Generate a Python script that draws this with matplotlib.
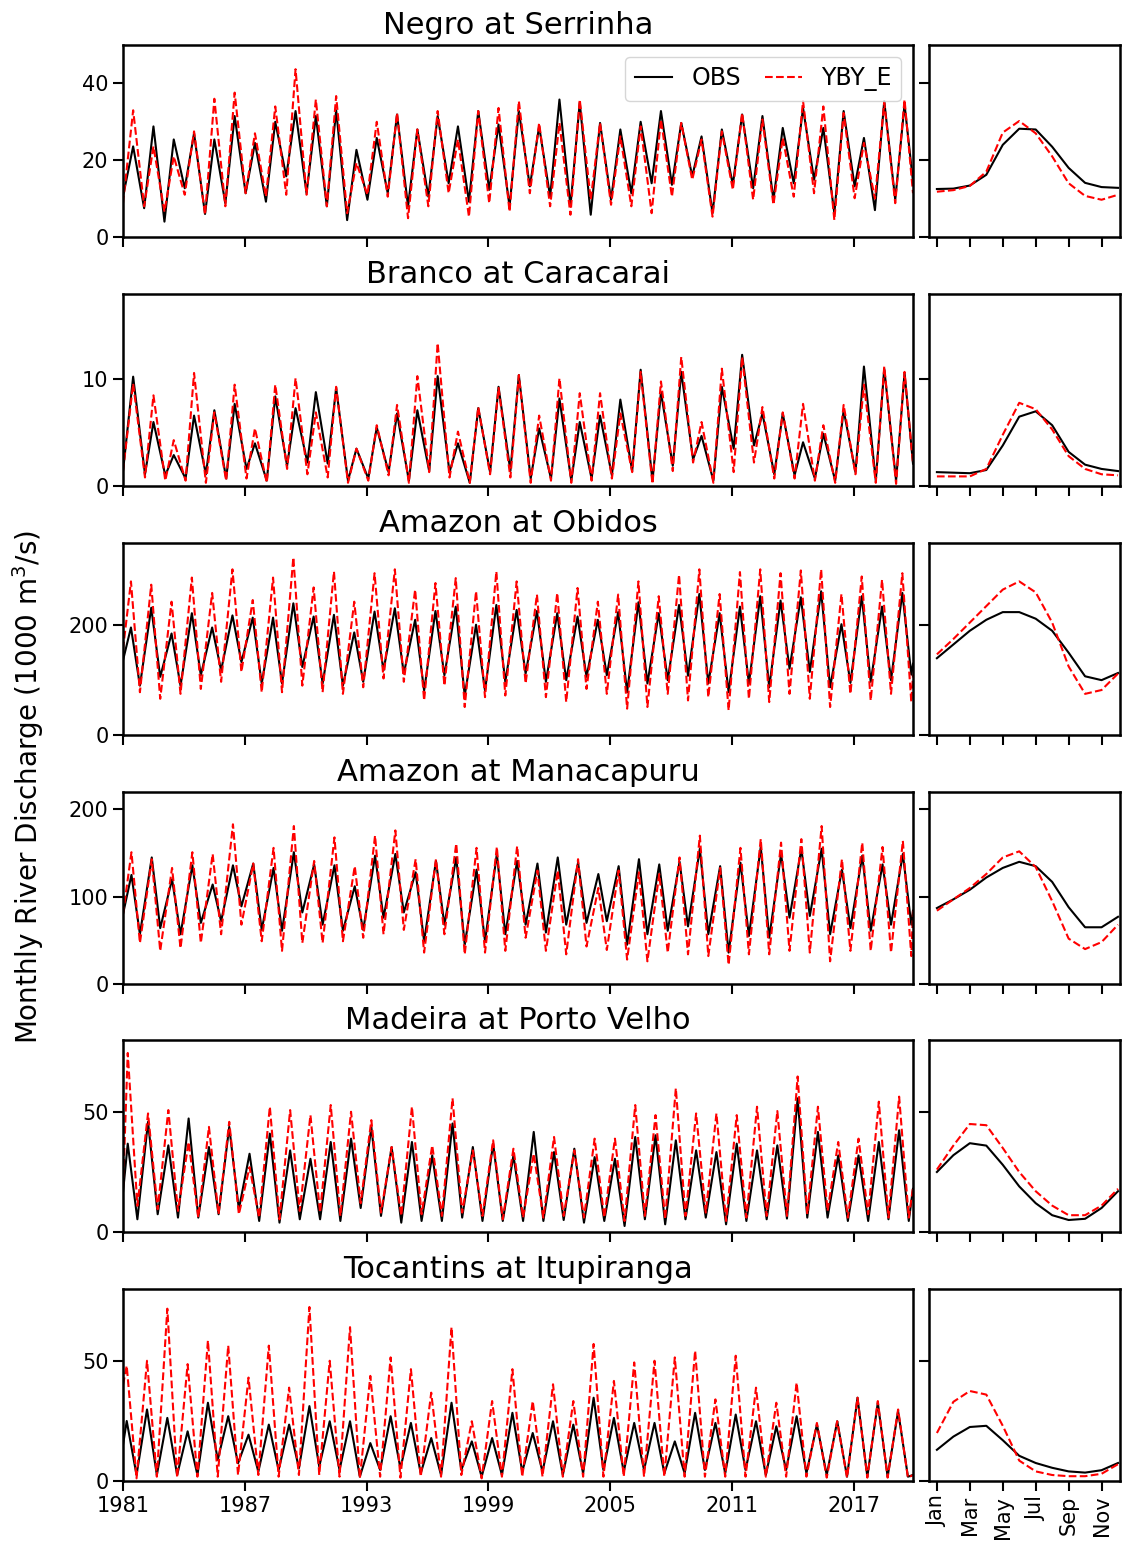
import numpy as np
import matplotlib.pyplot as plt

# monthly discharge, 1000 m3/s
# each station: yearly high-water value and the low-water value that follows it
years = np.arange(1981, 2020)
months = np.arange(1, 13)
month_ticks = [1, 3, 5, 7, 9, 11]
month_labels = ['Jan', 'Mar', 'May', 'Jul', 'Sep', 'Nov']
year_ticks = [1981, 1987, 1993, 1999, 2005, 2011, 2017]

# Negro at Serrinha
negro_obs_peak = [23.6, 28.8, 25.4, 27.0, 25.4, 31.5, 24.5, 30.0, 32.8, 31.5, 33.0, 22.7, 25.8, 31.9, 28.0, 31.5, 28.8, 32.8, 29.3, 32.8,
                  28.8, 35.8, 35.0, 29.7, 28.0, 30.0, 32.8, 29.7, 26.2, 28.0, 31.9, 31.5, 28.4, 33.6, 28.4, 32.8, 25.8, 35.4, 34.5]
negro_obs_low = [7.5, 4.0, 12.7, 6.0, 8.8, 11.4, 9.2, 15.8, 11.4, 8.0, 4.4, 9.7, 11.4, 8.0, 10.5, 14.0, 9.2, 12.3, 8.0, 13.2,
                 10.5, 8.0, 5.8, 9.7, 11.4, 14.0, 13.6, 15.8, 6.2, 13.6, 12.7, 9.7, 14.0, 14.9, 6.2, 13.2, 7.0, 9.7, 14.5]
negro_sim_peak = [33.0, 23.6, 21.0, 27.5, 36.0, 37.6, 27.0, 34.0, 43.7, 35.8, 36.7, 19.3, 30.0, 32.3, 28.0, 32.8, 25.4, 32.8, 33.6, 35.4,
                  29.7, 29.7, 35.8, 29.7, 26.2, 28.8, 30.6, 29.7, 25.4, 27.5, 32.3, 30.6, 25.8, 35.4, 34.0, 32.3, 24.5, 35.0, 35.8]
negro_sim_low = [8.0, 6.6, 11.0, 5.8, 8.0, 11.4, 10.5, 11.0, 11.0, 8.0, 6.2, 11.0, 10.5, 4.9, 8.0, 11.4, 5.3, 8.8, 6.6, 11.4,
                 8.0, 5.8, 9.7, 8.4, 8.0, 6.2, 10.5, 14.9, 5.3, 12.3, 9.7, 8.4, 10.5, 11.4, 4.4, 10.1, 10.0, 8.8, 11.4]
negro_ends = [10.5, 14.5, 8.8, 11.4]  # obs start, obs end, sim start, sim end
negro_clim_obs = [12.5, 12.6, 13.4, 16.2, 24.0, 28.2, 28.0, 23.5, 18.0, 14.1, 13.0, 12.8]
negro_clim_sim = [11.8, 12.2, 13.3, 17.0, 27.2, 30.2, 27.0, 21.0, 14.0, 10.7, 9.7, 11.0]

# Branco at Caracarai
branco_obs_peak = [10.25, 6.0, 2.9, 6.6, 7.1, 7.7, 4.0, 8.4, 7.3, 8.8, 9.2, 3.5, 5.5, 6.8, 7.1, 10.3, 4.0, 7.3, 9.3, 10.4,
                   5.4, 8.2, 6.0, 6.6, 8.1, 10.9, 8.8, 10.7, 4.7, 9.3, 12.3, 6.8, 6.8, 4.1, 4.9, 7.1, 11.2, 11.0, 10.6]
branco_obs_low = [1.1, 1.0, 0.7, 1.1, 0.7, 1.6, 0.5, 1.9, 2.2, 2.1, 0.5, 0.7, 1.3, 0.5, 1.4, 1.3, 0.3, 1.3, 1.4, 0.7,
                  0.7, 0.5, 0.7, 1.0, 1.4, 0.5, 1.9, 2.5, 0.5, 3.5, 3.8, 1.1, 1.0, 0.7, 0.5, 1.3, 0.5, 0.5, 2.1]
branco_sim_peak = [9.6, 8.5, 4.3, 10.6, 6.9, 9.5, 5.4, 9.5, 10.1, 6.9, 9.3, 3.5, 5.7, 7.6, 10.3, 13.4, 5.1, 7.4, 9.2, 10.4,
                   6.6, 10.1, 8.7, 8.7, 6.8, 10.7, 9.8, 12.1, 6.0, 11.0, 12.1, 7.4, 6.9, 7.7, 5.7, 7.6, 9.5, 11.2, 10.7]
branco_sim_low = [0.8, 0.5, 0.5, 0.3, 0.5, 0.7, 0.3, 1.6, 1.1, 0.8, 0.3, 0.5, 1.0, 0.3, 1.3, 0.8, 0.3, 1.1, 0.8, 0.3,
                  0.5, 0.3, 0.5, 0.7, 1.3, 0.2, 1.4, 2.2, 0.3, 1.3, 2.2, 0.7, 0.7, 0.5, 0.3, 1.1, 0.3, 0.2, 2.1]
branco_ends = [1.4, 2.1, 1.4, 2.1]
branco_clim_obs = [1.3, 1.25, 1.2, 1.5, 3.8, 6.5, 7.0, 5.7, 3.2, 2.0, 1.6, 1.4]
branco_clim_sim = [0.9, 0.9, 0.9, 1.6, 4.8, 7.8, 7.2, 5.3, 2.8, 1.6, 1.1, 1.0]

# Amazon at Obidos
obidos_obs_peak = [196, 232, 185, 222, 196, 218, 214, 214, 240, 216, 219, 187, 225, 231, 210, 226, 234, 201, 237, 228,
                   226, 222, 216, 210, 224, 242, 222, 237, 257, 222, 234, 253, 245, 251, 262, 202, 253, 234, 259]
obidos_obs_low = [90, 106, 90, 109, 118, 133, 94, 94, 124, 94, 90, 97, 118, 112, 81, 109, 72, 81, 97, 112,
                  97, 100, 106, 109, 78, 94, 100, 108, 94, 78, 94, 87, 121, 115, 87, 95, 97, 100, 110]
obidos_sim_peak = [280, 274, 243, 287, 259, 302, 246, 287, 324, 269, 298, 243, 295, 302, 265, 277, 286, 262, 298, 280,
                   256, 259, 268, 243, 256, 280, 253, 292, 302, 257, 297, 302, 295, 300, 302, 257, 289, 283, 295]
obidos_sim_low = [78, 66, 75, 84, 97, 115, 78, 78, 90, 78, 75, 87, 103, 97, 63, 90, 51, 69, 72, 94,
                  69, 60, 84, 75, 48, 51, 75, 63, 69, 45, 66, 60, 75, 66, 51, 75, 63, 75, 60]
obidos_ends = [136, 130, 156, 110]
obidos_clim_obs = [140, 165, 190, 210, 224, 224, 212, 190, 150, 107, 100, 113]
obidos_clim_sim = [147, 175, 205, 235, 265, 280, 260, 205, 125, 75, 82, 112]

# Amazon at Manacapuru
manac_obs_peak = [125, 145, 120, 136, 114, 136, 138, 133, 151, 137, 136, 112, 147, 149, 128, 141, 145, 131, 149, 141,
                  138, 145, 139, 126, 135, 143, 137, 140, 155, 135, 139, 157, 149, 155, 155, 131, 147, 137, 149]
manac_obs_low = [57, 64, 57, 70, 72, 89, 62, 61, 82, 68, 61, 62, 76, 82, 49, 68, 45, 49, 57, 68,
                 59, 68, 70, 72, 45, 57, 61, 66, 57, 36, 55, 53, 76, 78, 57, 64, 61, 68, 68]
manac_sim_peak = [151, 143, 133, 151, 149, 183, 138, 156, 181, 141, 168, 135, 170, 176, 143, 143, 161, 156, 157, 158,
                  130, 130, 143, 110, 130, 128, 126, 145, 170, 133, 156, 166, 162, 166, 181, 143, 162, 157, 164]
manac_sim_low = [47, 38, 41, 47, 57, 68, 49, 38, 47, 47, 49, 53, 57, 62, 36, 57, 34, 36, 38, 53,
                 38, 34, 43, 39, 28, 26, 36, 34, 32, 22, 34, 34, 38, 36, 26, 38, 38, 36, 32]
manac_ends = [80, 84, 80, 84]
manac_clim_obs = [87, 97, 108, 122, 133, 140, 135, 117, 88, 65, 65, 77]
manac_clim_sim = [84, 97, 110, 126, 145, 152, 134, 95, 52, 40, 48, 68]

# Madeira at Porto Velho
madeira_obs_peak = [36.8, 45.9, 36.1, 47.3, 35.4, 43.8, 32.6, 41.0, 34.0, 30.5, 37.5, 38.9, 43.8, 35.4, 37.5, 31.9, 45.2, 35.4, 36.8, 31.9,
                    41.7, 33.3, 34.7, 31.2, 30.5, 39.6, 40.3, 38.2, 34.0, 33.3, 36.8, 34.0, 36.1, 55.7, 41.7, 31.9, 31.9, 37.5, 42.4]
madeira_obs_low = [5.3, 7.4, 6.0, 6.0, 7.4, 9.5, 4.6, 3.9, 5.3, 5.3, 4.6, 10.0, 6.7, 3.9, 4.6, 4.6, 6.0, 4.6, 4.6, 4.6,
                   4.6, 5.0, 3.9, 4.6, 2.5, 5.3, 3.2, 5.3, 6.0, 3.2, 4.6, 5.3, 5.6, 6.0, 6.0, 4.6, 4.6, 5.3, 4.6]
madeira_sim_peak = [74.6, 49.4, 50.8, 37.5, 43.8, 45.9, 27.0, 52.2, 50.8, 48.7, 52.9, 50.1, 46.6, 35.4, 52.2, 36.1, 55.7, 34.0, 38.2, 34.7,
                    32.6, 39.6, 34.0, 38.9, 38.9, 52.9, 48.7, 59.9, 49.4, 49.4, 48.7, 52.2, 50.4, 64.8, 52.2, 37.5, 38.9, 54.3, 56.4]
madeira_sim_low = [10.9, 9.5, 8.8, 6.0, 7.4, 7.4, 6.0, 5.3, 8.8, 8.1, 6.7, 12.0, 8.1, 6.7, 7.4, 6.7, 8.1, 6.7, 5.3, 6.0,
                   6.0, 6.7, 6.0, 6.0, 4.6, 6.7, 5.3, 6.7, 8.1, 4.6, 6.0, 6.7, 6.7, 7.4, 8.8, 6.0, 7.4, 6.0, 6.0]
madeira_ends = [16.5, 18.0, 18.0, 18.6]
madeira_clim_obs = [25, 32, 37, 36, 28, 19, 12, 7, 5, 5.5, 10, 17]
madeira_clim_sim = [26, 36, 45, 44.5, 35, 25, 17, 11, 7, 7, 11, 18]

# Tocantins at Itupiranga
toc_obs_peak = [25.0, 29.8, 26.3, 20.7, 32.6, 27.0, 19.3, 23.5, 23.5, 31.2, 24.9, 24.9, 15.8, 27.0, 24.2, 17.9, 32.6, 16.5, 17.9, 28.4,
                20.0, 24.9, 23.5, 34.7, 26.3, 24.2, 24.2, 16.5, 28.4, 24.2, 27.7, 24.9, 22.8, 27.0, 23.5, 24.9, 34.7, 32.6, 29.1]
toc_obs_low = [2.5, 2.5, 2.5, 2.5, 8.8, 7.4, 3.9, 4.6, 5.3, 6.0, 4.6, 1.8, 4.6, 5.3, 3.2, 2.5, 4.6, 1.8, 2.5, 3.9,
               3.9, 2.5, 3.2, 4.6, 3.9, 4.6, 3.2, 3.2, 4.6, 3.2, 4.6, 2.5, 4.6, 3.2, 2.5, 1.8, 1.8, 1.8, 1.8]
toc_sim_peak = [48.0, 50.1, 71.8, 48.7, 58.5, 56.4, 43.1, 56.4, 38.9, 72.5, 50.1, 64.1, 43.8, 51.5, 46.6, 36.8, 64.1, 24.9, 33.3, 46.6,
                33.3, 40.3, 33.3, 57.1, 41.7, 49.4, 50.1, 51.5, 54.3, 34.0, 52.2, 38.9, 32.6, 41.0, 24.2, 24.9, 34.7, 33.3, 29.8]
toc_sim_low = [1.1, 1.8, 1.4, 1.8, 1.8, 2.5, 2.5, 1.8, 2.5, 2.5, 1.8, 1.1, 1.8, 1.4, 1.8, 1.8, 2.5, 1.1, 1.8, 1.8,
               1.8, 1.8, 1.8, 1.8, 1.8, 1.8, 1.8, 1.8, 1.8, 1.8, 1.8, 1.8, 1.8, 1.8, 1.4, 1.4, 1.4, 1.4, 1.4]
toc_ends = [15.0, 2.5, 40.0, 2.5]
toc_clim_obs = [13, 18.5, 22.5, 23, 17, 10.5, 7.5, 5.5, 4, 3.5, 4.5, 7.5]
toc_clim_sim = [20, 33, 37.5, 36, 23, 8.5, 4, 2.5, 2, 2, 3, 7]

# typical month (0 = Jan) of the yearly high and the following low, per station
negro_timing = [6.0, 12.5]
branco_timing = [6.0, 13.0]
obidos_timing = [4.7, 10.0]
manac_timing = [5.0, 10.0]
madeira_timing = [2.8, 8.5]
toc_timing = [2.2, 8.0]

stations = [
    ('Negro at Serrinha', negro_obs_peak, negro_obs_low, negro_sim_peak, negro_sim_low, negro_ends, negro_timing,
     negro_clim_obs, negro_clim_sim, 50, [0, 20, 40]),
    ('Branco at Caracarai', branco_obs_peak, branco_obs_low, branco_sim_peak, branco_sim_low, branco_ends, branco_timing,
     branco_clim_obs, branco_clim_sim, 18, [0, 10]),
    ('Amazon at Obidos', obidos_obs_peak, obidos_obs_low, obidos_sim_peak, obidos_sim_low, obidos_ends, obidos_timing,
     obidos_clim_obs, obidos_clim_sim, 350, [0, 200]),
    ('Amazon at Manacapuru', manac_obs_peak, manac_obs_low, manac_sim_peak, manac_sim_low, manac_ends, manac_timing,
     manac_clim_obs, manac_clim_sim, 220, [0, 100, 200]),
    ('Madeira at Porto Velho', madeira_obs_peak, madeira_obs_low, madeira_sim_peak, madeira_sim_low, madeira_ends, madeira_timing,
     madeira_clim_obs, madeira_clim_sim, 80, [0, 50]),
    ('Tocantins at Itupiranga', toc_obs_peak, toc_obs_low, toc_sim_peak, toc_sim_low, toc_ends, toc_timing,
     toc_clim_obs, toc_clim_sim, 80, [0, 50]),
]

t_start = 1981.0
t_end = 2019 + 11 / 12


def build_series(peak, low, start, end, timing):
    # knots: start value, yearly high and low, end value
    t = [t_start]
    v = [start]
    for y, p, l in zip(years, peak, low):
        t += [y + timing[0] / 12, y + timing[1] / 12]
        v += [p, l]
    t.append(t_end)
    v.append(end)
    t = np.array(t)
    v = np.array(v)
    order = np.argsort(t)
    t, v = t[order], v[order]
    keep = t <= t_end
    return t[keep], v[keep]


W, H = 1125, 1547
fig = plt.figure(figsize=(W / 100, H / 100), dpi=100)

row_tops = [45, 294, 543, 792, 1040, 1289]
row_h = 192

for i, st in enumerate(stations):
    name, op, ol, sp, sl, ends, timing, cobs, csim, ymax, yt = st
    bottom = 1 - (row_tops[i] + row_h) / H
    ax = fig.add_axes([123 / W, bottom, 790 / W, row_h / H])
    axc = fig.add_axes([929 / W, bottom, 191 / W, row_h / H])

    tx, vo = build_series(op, ol, ends[0], ends[1], timing)
    ts, vs = build_series(sp, sl, ends[2], ends[3], timing)
    ax.plot(tx, vo, color='black', lw=1.5, label='OBS')
    ax.plot(ts, vs, color='red', ls='--', lw=1.5, label='YBY_E')
    ax.set_xlim(t_start, t_end)
    ax.set_ylim(0, ymax)
    ax.set_yticks(yt)
    ax.set_xticks(year_ticks)
    ax.set_title(name, fontsize=22, pad=8)

    axc.plot(months, cobs, color='black', lw=1.5)
    axc.plot(months, csim, color='red', ls='--', lw=1.5)
    axc.set_xlim(0.52, 12.12)
    axc.set_ylim(0, ymax)
    axc.set_yticks(yt)
    axc.set_yticklabels([])
    axc.set_xticks(month_ticks)

    if i == len(stations) - 1:
        ax.set_xticklabels([str(y) for y in year_ticks])
        axc.set_xticklabels(month_labels, rotation=90)
    else:
        ax.set_xticklabels([])
        axc.set_xticklabels([])

    for a in (ax, axc):
        a.tick_params(direction='out', length=7, width=1.5, labelsize=15)
        for s in a.spines.values():
            s.set_linewidth(1.8)

    if i == 0:
        ax.legend(loc='upper right', ncol=2, fontsize=17, handlelength=1.6,
                  columnspacing=1.0, handletextpad=0.8)

fig.text(28 / W, 1 - 787 / H, 'Monthly River Discharge (1000 m$^3$/s)', rotation=90,
         ha='center', va='center', fontsize=20)

fig.savefig('out.png', dpi=100)
